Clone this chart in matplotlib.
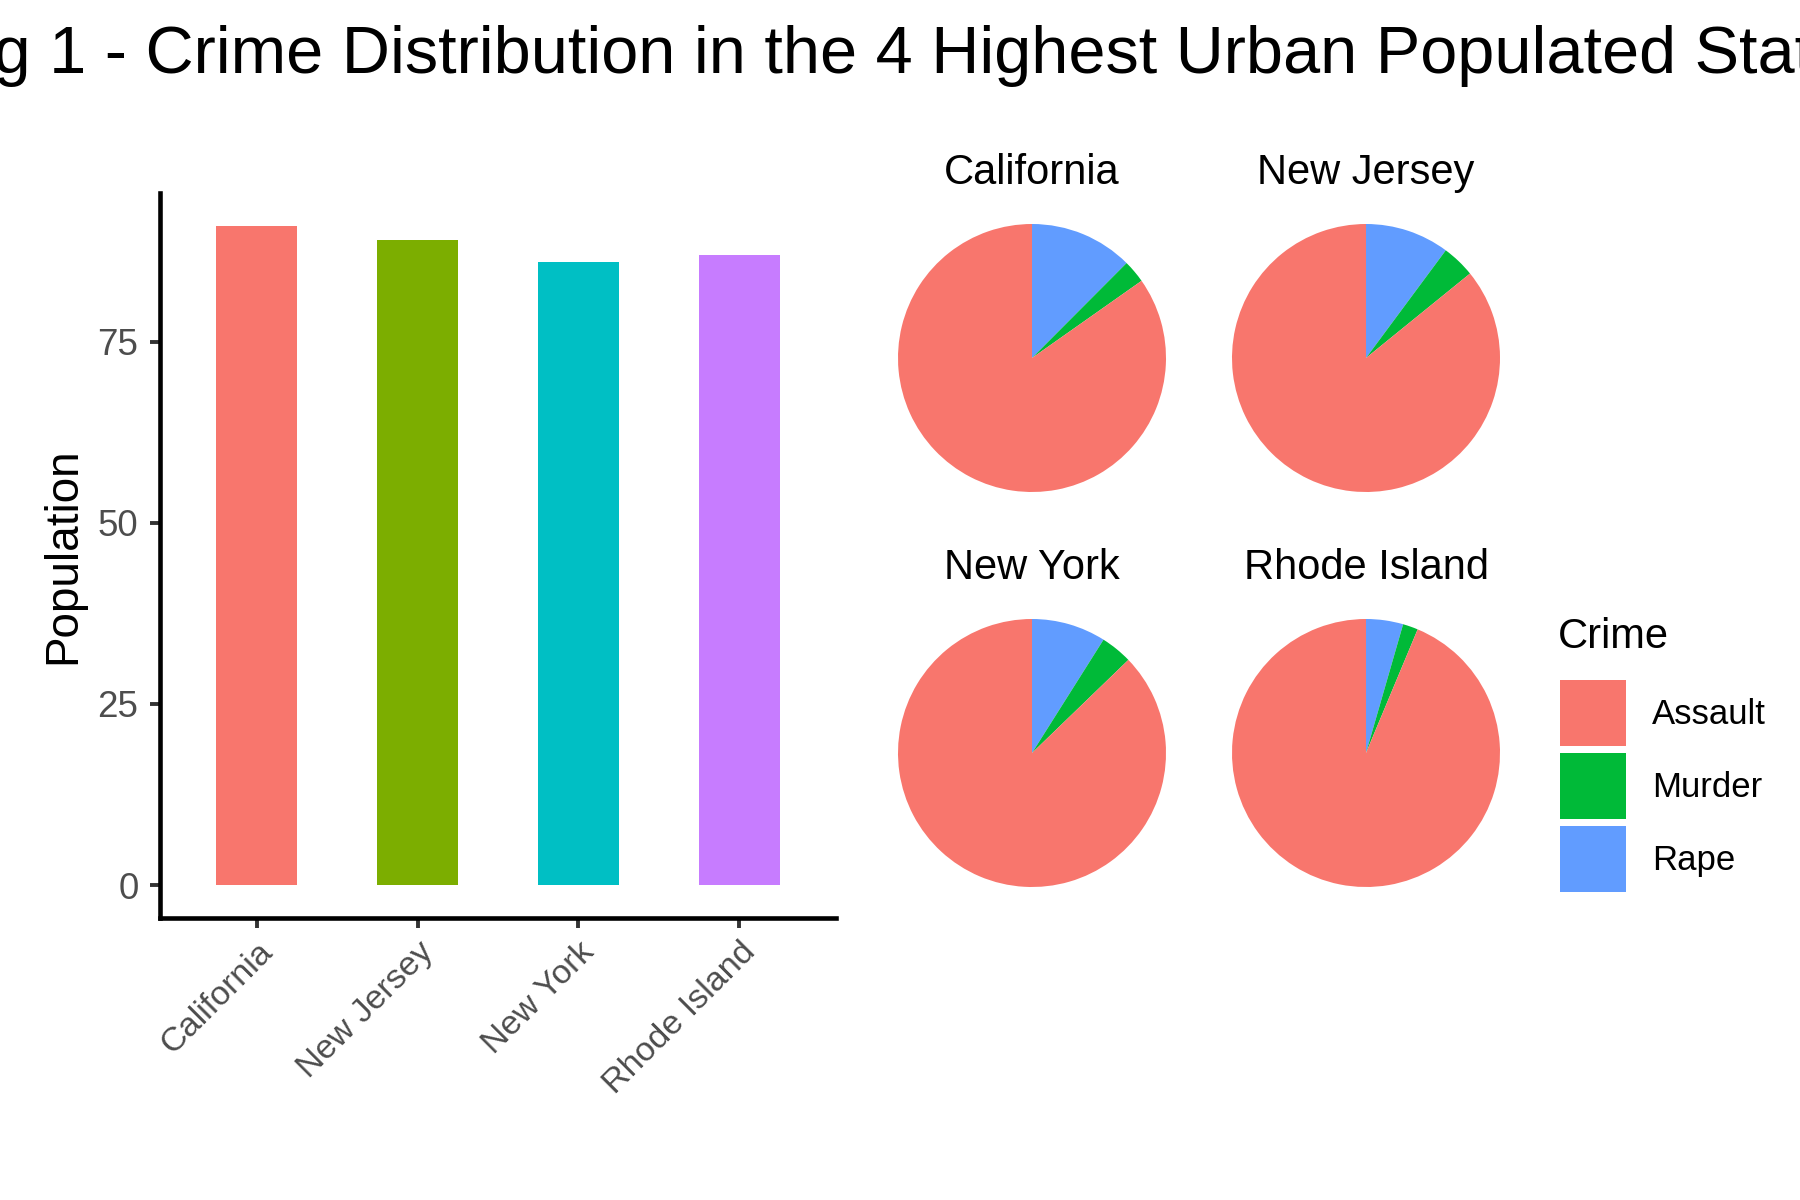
import matplotlib
matplotlib.use("Agg")
import matplotlib.pyplot as plt
from matplotlib.patches import Patch

plt.rcParams['font.family'] = ['Liberation Sans', 'DejaVu Sans']

# USArrests rows for the 4 states with highest urban population
states = ['California', 'New Jersey', 'New York', 'Rhode Island']
urban_pop = [91, 89, 86, 87]
murder = [9.0, 7.4, 11.1, 3.4]
assault = [276, 159, 254, 174]
rape = [40.6, 18.8, 26.1, 8.3]

crimes = ['Assault', 'Murder', 'Rape']
crime_colors = {'Assault': '#F8766D', 'Murder': '#00BA38', 'Rape': '#619CFF'}
bar_colors = ['#F8766D', '#7CAE00', '#00BFC4', '#C77CFF']

W, H = 1800, 1200
fig = plt.figure(figsize=(W / 100, H / 100), dpi=100)


def px_axes(x0, y0, x1, y1):
    # pixel box (top-left origin) -> figure fraction rect
    return [x0 / W, 1 - y1 / H, (x1 - x0) / W, (y1 - y0) / H]


fig.text(911 / W, 1 - 73 / H, 'Fig 1 - Crime Distribution in the 4 Highest Urban Populated States',
         ha='center', va='baseline', fontsize=48)

# bar chart
ax = fig.add_axes(px_axes(160, 193, 836, 918))
xpos = range(1, len(states) + 1)
ax.bar(xpos, urban_pop, width=0.5, color=bar_colors)
ax.set_xlim(0.4, 4.6)
ax.set_ylim(-4.55, 95.55)
ax.set_yticks([0, 25, 50, 75])
ax.set_xticks(list(xpos))
ax.set_xticklabels(states, rotation=45, ha='right', va='top', rotation_mode='anchor')
for s in ['top', 'right']:
    ax.spines[s].set_visible(False)
for s in ['left', 'bottom']:
    ax.spines[s].set_linewidth(3.3)
    ax.spines[s].set_color('black')
ax.tick_params(axis='both', length=7.5, width=2.8, color='#333333', labelcolor='#4D4D4D')
ax.tick_params(axis='y', labelsize=26.5, pad=8)
ax.tick_params(axis='x', labelsize=24.5, pad=6)
ax.set_ylabel('Population', fontsize=33, labelpad=9)

# pies
centers = [(1032, 358), (1366, 358), (1032, 753), (1366, 753)]
title_base = [184, 184, 579, 579]
r = 134
for i, st in enumerate(states):
    cx, cy = centers[i]
    pax = fig.add_axes(px_axes(cx - r, cy - r, cx + r, cy + r))
    vals = [rape[i], murder[i], assault[i]]
    cols = [crime_colors['Rape'], crime_colors['Murder'], crime_colors['Assault']]
    pax.pie(vals, colors=cols, startangle=90, counterclock=False,
            wedgeprops=dict(linewidth=0))
    pax.set_xlim(-1, 1)
    pax.set_ylim(-1, 1)
    pax.axis('off')
    fig.text(cx / W, 1 - title_base[i] / H, st, ha='center', va='baseline', fontsize=30)

# legend
fig.text(1558 / W, 1 - 637 / H, 'Crime', ha='left', va='center', fontsize=30)
handles = [Patch(facecolor=crime_colors[c], edgecolor='none') for c in crimes]
leg = fig.legend(handles, crimes, loc='upper left', bbox_to_anchor=(1560 / W, 1 - 680 / H),
                 frameon=False, fontsize=25,
                 handlelength=1.9, handleheight=2.55, labelspacing=0.2,
                 handletextpad=0.75, borderpad=0, borderaxespad=0)

fig.savefig('out.png', dpi=100)
